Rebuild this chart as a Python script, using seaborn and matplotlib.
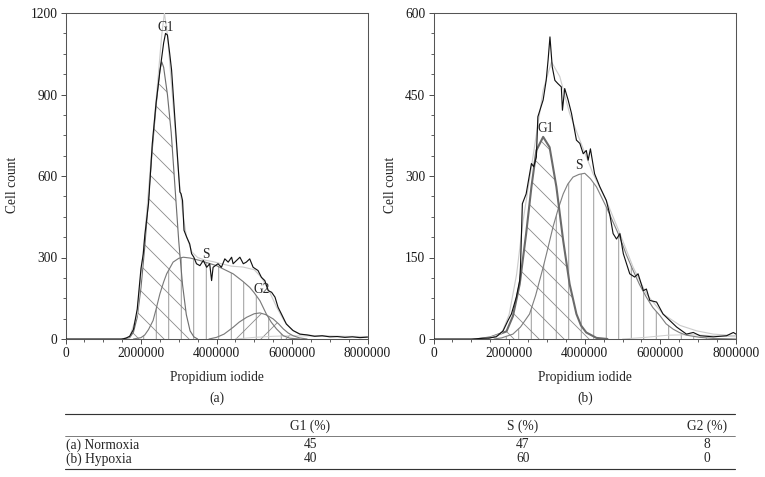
import numpy as np
import pandas as pd
import matplotlib
matplotlib.use("Agg")
import matplotlib.pyplot as plt
from matplotlib.lines import Line2D
from matplotlib.ticker import MultipleLocator
import seaborn as sns

# ------------------------------
# Data, x in units of 1e6
# ------------------------------
# (a) Normoxia - measured histogram
norm_x = [0, 1.0, 1.5, 1.6, 1.7, 1.8, 1.9, 2.0, 2.06, 2.1, 2.2, 2.3, 2.4, 2.5, 2.6, 2.65,
          2.70, 2.76, 2.81, 3.03, 3.06, 3.10, 3.14, 3.21, 3.29, 3.34, 3.40, 3.47, 3.56,
          3.65, 3.74, 3.82, 3.87, 3.91, 4.04, 4.13, 4.22, 4.31, 4.40, 4.44, 4.53, 4.62,
          4.71, 4.79, 4.88, 4.97, 5.10, 5.19, 5.28, 5.37, 5.46, 5.55, 5.63, 5.72, 5.85,
          6.03, 6.21, 6.4, 6.6, 6.8, 7.0, 7.2, 7.4, 7.6, 7.8, 8.0]
norm_count = [0, 0, 0, 3, 10, 35, 110, 260, 313, 380, 500, 720, 870, 985, 1090, 1125,
              1119, 1051, 990, 541, 535, 510, 400, 375, 350, 314, 301, 277, 270,
              289, 264, 277, 215, 264, 277, 264, 295, 283, 301, 277, 289, 301,
              277, 283, 295, 264, 252, 227, 215, 178, 172, 154, 117, 92, 55,
              31, 18, 15, 10, 12, 8, 9, 6, 8, 5, 7]

# (a) fitted components
norm_g1_x = [1.5, 1.7, 1.8, 1.9, 2.0, 2.1, 2.2, 2.3, 2.4, 2.5, 2.55, 2.6, 2.7, 2.8, 2.9,
             3.0, 3.1, 3.2, 3.3, 3.4, 3.5]
norm_g1 = [0, 5, 25, 80, 190, 340, 520, 700, 860, 990, 1020, 1000, 900, 760, 560,
           360, 200, 90, 30, 8, 0]
norm_s_x = [1.8, 2.0, 2.1, 2.2, 2.32, 2.4, 2.5, 2.6, 2.68, 2.85, 3.0, 3.12, 3.3, 3.56,
            4.0, 4.44, 4.7, 4.88, 5.0, 5.15, 5.32, 5.45, 5.59, 5.77, 5.94, 6.2]
norm_s = [0, 5, 15, 35, 68, 110, 166, 210, 240, 283, 297, 301, 298, 289,
          270, 240, 212, 190, 170, 141, 92, 62, 37, 12, 3, 0]
norm_g2_x = [3.8, 4.0, 4.2, 4.44, 4.6, 4.8, 5.0, 5.15, 5.3, 5.5, 5.65, 5.77, 5.9, 6.03,
             6.2, 6.4]
norm_g2 = [0, 6, 18, 43, 62, 80, 93, 96, 90, 74, 55, 37, 22, 12, 4, 0]
norm_fit_x = [1.5, 1.7, 1.9, 2.1, 2.3, 2.45, 2.55, 2.62, 2.7, 2.8, 2.9, 3.0, 3.1, 3.2,
              3.35, 3.5, 3.7, 3.9, 4.1, 4.4, 4.7, 5.0, 5.2, 5.4, 5.6, 5.8, 6.0, 6.2,
              6.6, 7.2, 8.0]
norm_fit = [0, 8, 90, 380, 720, 960, 1120, 1200, 1120, 950, 780, 600, 470, 380,
            320, 300, 290, 285, 278, 268, 265, 255, 225, 175, 115, 65, 33, 18,
            12, 10, 9]
norm_agg_x = [4.5, 5.0, 5.5, 6.0, 7.0, 8.0]
norm_agg = [0, 6, 10, 12, 10, 8]

# (b) Hypoxia - measured histogram
hyp_x = [0, 1.0, 1.48, 1.66, 1.84, 1.97, 2.06, 2.19, 2.28, 2.30, 2.35, 2.45, 2.59, 2.65,
         2.72, 2.76, 2.90, 2.98, 3.03, 3.08, 3.14, 3.21, 3.29, 3.38, 3.41, 3.47, 3.56,
         3.65, 3.78, 3.87, 3.96, 4.04, 4.09, 4.15, 4.26, 4.40, 4.57, 4.66, 4.75, 4.84,
         4.93, 5.02, 5.19, 5.32, 5.41, 5.55, 5.63, 5.72, 5.90, 6.07, 6.25, 6.43, 6.69,
         6.87, 7.05, 7.40, 7.75, 7.93, 8.0]
hyp_count = [0, 0, 2, 4, 15, 34, 46, 77, 108, 132, 249, 267, 323, 317,
             335, 409, 440, 476, 513, 556, 501, 476, 470, 464, 421, 461, 440,
             415, 366, 360, 341, 347, 329, 350, 304, 280, 255, 230, 194, 184,
             194, 157, 120, 114, 120, 89, 92, 71, 68, 46, 34, 22, 9,
             12, 6, 4, 6, 12, 9]

# (b) fitted components
hyp_g1_x = [1.2, 1.5, 1.7, 1.93, 2.1, 2.28, 2.45, 2.59, 2.72, 2.9, 3.07, 3.25, 3.43,
            3.6, 3.78, 3.9, 4.04, 4.31, 4.6]
hyp_g1 = [0, 3, 8, 14, 42, 101, 194, 280, 347, 372, 353, 280, 181,
          101, 46, 25, 12, 2, 0]
hyp_s_x = [1.6, 1.8, 2.1, 2.3, 2.54, 2.7, 2.9, 3.0, 3.16, 3.3, 3.43, 3.55, 3.69, 3.85,
           4.0, 4.15, 4.31, 4.57, 4.75, 4.93, 5.1, 5.28, 5.45, 5.63, 5.8, 5.99, 6.15,
           6.34, 6.5, 6.69, 7.05, 7.4, 8.0]
hyp_s = [0, 2, 9, 22, 46, 80, 132, 160, 206, 240, 267, 285, 298, 303,
         305, 295, 280, 243, 215, 187, 155, 126, 100, 77, 58, 43, 28,
         18, 12, 7, 3, 1, 0]
hyp_fit_x = [1.2, 1.5, 1.8, 2.0, 2.2, 2.37, 2.63, 2.90, 3.12, 3.34, 3.60, 3.87, 4.22,
             4.57, 4.93, 5.28, 5.63, 6.07, 6.52, 6.96, 7.40, 8.0]
hyp_fit = [0, 3, 10, 45, 120, 218, 335, 458, 510, 483, 415, 366, 304,
           255, 194, 132, 83, 46, 25, 15, 9, 6]
hyp_agg_x = [5.0, 5.6, 6.2, 6.8, 7.4, 8.0]
hyp_agg = [0, 3, 7, 8, 6, 4]

# summary table
table_rows = ["(a) Normoxia", "(b) Hypoxia"]
table_cols = ["G1 (%)", "S (%)", "G2 (%)"]
g1_pct = [45, 40]
s_pct = [47, 60]
g2_pct = [8, 0]

# ------------------------------
# Style
# ------------------------------
sns.set_theme(style="ticks")
plt.rcParams["font.family"] = ["Liberation Serif", "DejaVu Serif"]
plt.rcParams["hatch.linewidth"] = 0.8
FS = 13
DPI = 75
W, H = 765, 477

fig = plt.figure(figsize=(W / DPI, H / DPI), dpi=DPI)


def fx(px):
    return px / W


def fy(py):
    return 1 - py / H


def scaled(xs):
    return np.array(xs) * 1e6


def curve(ax, xs, ys, color, lw, z):
    sns.lineplot(x=scaled(xs), y=ys, ax=ax, color=color, lw=lw, estimator=None,
                 sort=False, zorder=z)


def hatched(ax, xs, ys, hatch, color="#8a8a8a"):
    ax.fill_between(scaled(xs), ys, 0, facecolor="none", edgecolor=color,
                    hatch=hatch, linewidth=0, zorder=1)


def style_axes(ax, ymax, ymajor):
    ax.set_xlim(0, 8e6)
    ax.set_ylim(0, ymax)
    ax.xaxis.set_major_locator(MultipleLocator(2e6))
    ax.xaxis.set_minor_locator(MultipleLocator(5e5))
    ax.yaxis.set_major_locator(MultipleLocator(ymajor))
    ax.yaxis.set_minor_locator(MultipleLocator(ymajor / 4))
    ax.xaxis.set_major_formatter(plt.FuncFormatter(lambda v, p: f"{int(v)}"))
    ax.tick_params(which="major", direction="out", length=4.8, width=0.9,
                   color="#444444", labelsize=FS, pad=3, labelcolor="#1a1a1a")
    ax.tick_params(which="minor", direction="out", length=2.6, width=0.8,
                   color="#444444")
    for sp in ax.spines.values():
        sp.set_visible(True)
        sp.set_color("#555555")
        sp.set_linewidth(1.0)
    ax.set_xlabel("")
    ax.set_ylabel("")


# ------------------------------
# (a) Normoxia
# ------------------------------
ax1 = fig.add_axes([fx(65.5), fy(339), fx(367.5) - fx(65.5), fy(13) - fy(339)])
hatched(ax1, norm_g1_x, norm_g1, "\\")
hatched(ax1, norm_s_x, norm_s, "|")
hatched(ax1, norm_g2_x, norm_g2, "/")
curve(ax1, norm_agg_x, norm_agg, "#cfcfcf", 1.0, 2)
curve(ax1, norm_g1_x, norm_g1, "#6e6e6e", 1.1, 3)
curve(ax1, norm_s_x, norm_s, "#7a7a7a", 1.1, 3)
curve(ax1, norm_g2_x, norm_g2, "#7a7a7a", 1.1, 3)
curve(ax1, norm_fit_x, norm_fit, "#cccccc", 1.1, 4)
curve(ax1, norm_x, norm_count, "#111111", 1.1, 5)
ax1.text(2.65e6, 1148, "G1", ha="center", va="center", fontsize=FS, zorder=6)
ax1.text(3.71e6, 311, "S", ha="center", va="center", fontsize=FS, zorder=6)
ax1.text(5.19e6, 184, "G2", ha="center", va="center", fontsize=FS, zorder=6)
style_axes(ax1, 1200, 300)

# ------------------------------
# (b) Hypoxia
# ------------------------------
ax2 = fig.add_axes([fx(433.5), fy(339), fx(736) - fx(433.5), fy(13) - fy(339)])
hatched(ax2, hyp_g1_x, hyp_g1, "\\")
hatched(ax2, hyp_s_x, hyp_s, "|")
curve(ax2, hyp_agg_x, hyp_agg, "#cfcfcf", 1.0, 2)
curve(ax2, hyp_s_x, hyp_s, "#808080", 1.1, 3)
curve(ax2, hyp_g1_x, hyp_g1, "#6a6a6a", 2.0, 3)
curve(ax2, hyp_fit_x, hyp_fit, "#cccccc", 1.1, 4)
curve(ax2, hyp_x, hyp_count, "#111111", 1.1, 5)
ax2.text(2.96e6, 387, "G1", ha="center", va="center", fontsize=FS, zorder=6)
ax2.text(3.85e6, 320, "S", ha="center", va="center", fontsize=FS, zorder=6)
style_axes(ax2, 600, 150)

# axis titles and panel letters
for cx, ylx, letter in [(216.5, 13, "(a)"), (585, 390, "(b)")]:
    fig.text(fx(cx), fy(377.7), "Propidium iodide", ha="center", va="center", fontsize=FS)
    fig.text(fx(cx), fy(398), letter, ha="center", va="center", fontsize=FS)
    fig.text(fx(ylx), fy(185), "Cell count", ha="center", va="center",
             rotation=90, fontsize=FS)

# ------------------------------
# Table
# ------------------------------
def hline(py, lw):
    fig.add_artist(Line2D([fx(65), fx(735)], [fy(py), fy(py)], color="#333333",
                          lw=lw, transform=fig.transFigure))


hline(414, 1.1)
hline(435.7, 0.6)
hline(469, 1.1)

col_x = [310, 523, 707]
for cx, name in zip(col_x, table_cols):
    fig.text(fx(cx), fy(426), name, ha="center", va="center", fontsize=FS)
for i, (row, py) in enumerate(zip(table_rows, [445, 459])):
    fig.text(fx(66), fy(py), row, ha="left", va="center", fontsize=FS)
    for cx, vals in zip(col_x, [g1_pct, s_pct, g2_pct]):
        fig.text(fx(cx), fy(py), str(vals[i]), ha="center", va="center", fontsize=FS)

fig.savefig("out.png", dpi=DPI, facecolor="white")
